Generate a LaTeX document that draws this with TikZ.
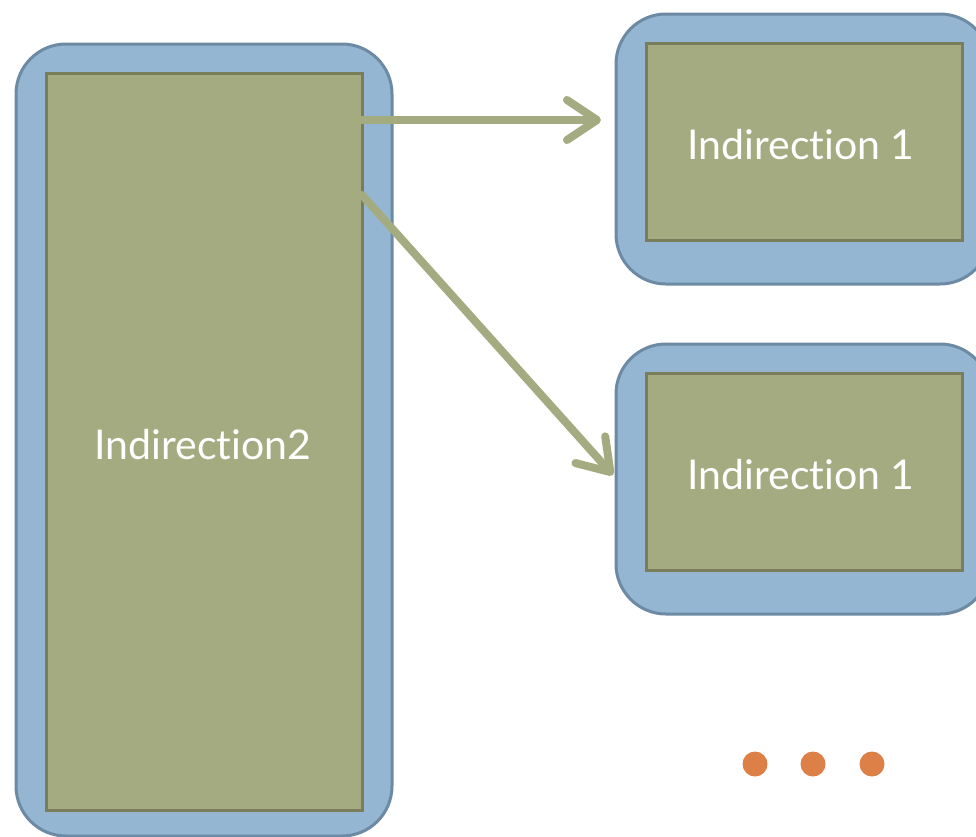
\documentclass[tikz,border=0pt]{standalone}
\usepackage{fontspec}
\setmainfont{Lato}[Ligatures=NoCommon]
\usetikzlibrary{arrows.meta}
\definecolor{boxblue}{HTML}{94B6D2}
\definecolor{boxblueline}{HTML}{6C8AA3}
\definecolor{olive}{HTML}{A5AB80}
\definecolor{oliveline}{HTML}{7A7D5A}
\definecolor{dotorange}{HTML}{DD8047}
\begin{document}
\begin{tikzpicture}[
    x=1pt, y=-1pt,
    outerbox/.style={draw=boxblueline, fill=boxblue, line width=3pt,
        rounded corners=50pt, inner sep=0pt},
    innerbox/.style={draw=oliveline, fill=olive, line width=3pt,
        inner sep=0pt, text=white, font=\fontsize{41}{46}\selectfont},
    link/.style={draw=olive, line width=8pt, line cap=round,
        -{Straight Barb[length=30pt, width=40pt, line cap=round, line join=round]}},
    dot/.style={circle, fill=dotorange, minimum size=25pt, inner sep=0pt}
]
\useasboundingbox (0,0) rectangle (976,836);
% left block
\node[outerbox, minimum width=376pt, minimum height=792pt] (outL) at (204,440) {};
\node[innerbox, minimum width=316pt, minimum height=737pt] (inL) at (204,441.5) {};
\node[text=white, font=\fontsize{41}{46}\selectfont] (labL) at (203,445) {Indirection2};
% right blocks
\node[outerbox, minimum width=374pt, minimum height=270pt] (outA) at (803,149) {};
\node[innerbox, minimum width=316pt, minimum height=197pt] (inA) at (804,141.5) {};
\node[text=white, font=\fontsize{41}{46}\selectfont] (labA) at (801,145) {Indirection 1};
\node[outerbox, minimum width=374pt, minimum height=270pt] (outB) at (803,479) {};
\node[innerbox, minimum width=316pt, minimum height=197pt] (inB) at (804,472) {};
\node[text=white, font=\fontsize{41}{46}\selectfont] (labB) at (801,475) {Indirection 1};
% arrows
\coordinate (a1s) at (362,120);
\coordinate (a1e) at (601,120);
\coordinate (a2s) at (362,195);
\coordinate (a2e) at (613,475);
\draw[link] (a1s) -- (a1e);
\draw[link] (a2s) -- (a2e);
% dots
\node[dot] (d1) at (755,764) {};
\node[dot] (d2) at (813,764) {};
\node[dot] (d3) at (872,764) {};
\end{tikzpicture}
\end{document}
